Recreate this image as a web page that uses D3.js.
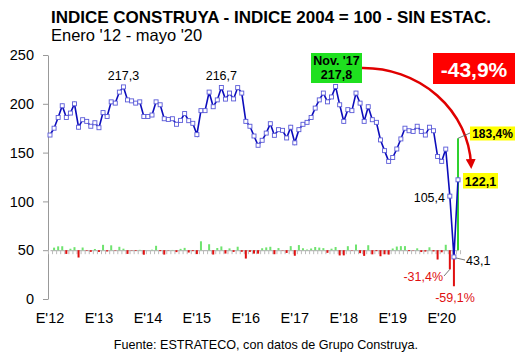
<!DOCTYPE html>
<html>
<head>
<meta charset="utf-8">
<script src="https://cdn.jsdelivr.net/npm/d3@7"></script>
<style>
  body { margin: 0; background: #fff; }
  text { font-family: Arial, "Liberation Sans", sans-serif; }
</style>
</head>
<body>
<svg id="chart" width="530" height="354"></svg>
<script>
// indice construya, ene 2012 - may 2020
const indexValues = [
  168, 175, 186, 198, 186, 190.5, 200, 176, 183.7, 182, 177, 180.6,
  175.5, 191, 187, 202, 200.7, 212, 217.3, 204, 203, 200.7, 202, 187,
  187, 188.5, 202, 199, 184.7, 184, 184.7, 179, 183, 190, 182.7, 180,
  168.4, 193, 193, 212, 197, 204, 216.7, 204.8, 211, 205, 216.6, 211,
  182, 177, 167, 157.5, 162.6, 170, 179.6, 167.7, 173.5, 172.8, 165, 176,
  160, 173.5, 179, 181, 186, 195.6, 204, 211, 202, 207, 217.8, 199,
  182, 194, 193, 211, 200.7, 182, 197, 183.7, 181, 163, 152, 141,
  145, 153.7, 164, 175, 172.4, 171.7, 177, 171.7, 168, 176, 172.4, 146,
  141, 153.6, 105.4, 43.1, 122.1
];

// monthly % change (bars, secondary scale around the 50 line)
const monthlyChange = [
  null, 4.2, 6.3, 6.5, -6.1, 2.4, 5.0, -12.0, 4.4, -0.9, -2.7, 2.0,
  -2.8, 8.8, -2.1, 8.0, -0.6, 5.6, 2.5, -6.1, -0.5, -1.1, 0.6, -7.4,
  0, 0.8, 7.2, -1.5, -7.2, -0.4, 0.4, -3.1, 2.2, 3.8, -3.8, -1.5,
  -6.4, 14.6, 0, 9.8, -7.1, 3.6, 6.2, -5.5, 3.0, -2.8, 5.7, -2.6,
  -13.7, -2.7, -5.6, -5.7, 3.2, 4.6, 5.6, -6.6, 3.5, -0.4, -4.5, 6.7,
  -9.1, 8.4, 3.2, 1.1, 2.8, 5.2, 4.3, 3.4, -4.3, 2.5, 5.2, -8.6,
  -8.5, 6.6, -0.5, 9.3, -4.9, -9.3, 8.2, -6.8, -1.5, -9.9, -6.7, -7.2,
  2.8, 6.0, 6.7, 6.7, -1.5, -0.4, 3.1, -3.0, -2.2, 4.8, -2.0, -15.3,
  -3.4, 8.9, -31.4, -59.1, 183.4
];

const yearLabels = ["E'12", "E'13", "E'14", "E'15", "E'16", "E'17", "E'18", "E'19", "E'20"];
const yTicks = [0, 50, 100, 150, 200, 250];

const svg = d3.select("#chart");

const x = d3.scaleLinear().domain([0, indexValues.length - 1]).range([50, 458]);
const y = d3.scaleLinear().domain([0, 250]).range([299, 55]);
// bars: 0% sits on the 50 line
const y2 = d3.scaleLinear().domain([-80, 320]).range([299, 55]);

// titles
svg.append("text")
  .attr("x", 51).attr("y", 23)
  .style("font-size", "17px").style("font-weight", "bold")
  .text("INDICE CONSTRUYA - INDICE 2004 = 100 - SIN ESTAC.");
svg.append("text")
  .attr("x", 51).attr("y", 41)
  .style("font-size", "16.5px")
  .text("Enero '12 - mayo '20");

// y axis
const yAxis = svg.append("g")
  .attr("transform", "translate(48,0)")
  .call(d3.axisLeft(y).tickValues(yTicks).tickSize(5).tickSizeOuter(0).tickPadding(9));
yAxis.selectAll("path, line").attr("stroke", "#999");
yAxis.selectAll("text").style("font-size", "14.5px").attr("fill", "#000");

// base line at 50 with monthly ticks
const baseAxis = svg.append("g")
  .attr("transform", `translate(0,${y(50)})`)
  .call(d3.axisBottom(x)
    .tickValues(d3.range(-0.5, indexValues.length, 1))
    .tickSize(4).tickSizeOuter(0).tickFormat(""));
baseAxis.select(".domain").attr("stroke", "#aaa");
baseAxis.selectAll("line").attr("stroke", "#bbb");

// year labels
svg.append("g").selectAll("text")
  .data(yearLabels)
  .join("text")
  .attr("x", (d, i) => x(i * 12))
  .attr("y", 323)
  .attr("text-anchor", "middle")
  .style("font-size", "14.5px")
  .text(d => d);

// bars
svg.append("g").selectAll("rect")
  .data(monthlyChange.map((v, i) => ({ v, i })).filter(d => d.v !== null))
  .join("rect")
  .attr("x", d => x(d.i) - 1)
  .attr("width", 2)
  .attr("y", d => Math.min(y2(0), y2(d.v)))
  .attr("height", d => Math.abs(y2(d.v) - y2(0)))
  .attr("fill", d => d.v >= 0 ? (d.v > 100 ? "#2fd12f" : "#6fe36f") : "#e01010");

// line
const line = d3.line().x((d, i) => x(i)).y(d => y(d));
svg.append("path")
  .datum(indexValues)
  .attr("d", line)
  .attr("fill", "none")
  .attr("stroke", "#0c0cbb")
  .attr("stroke-width", 1.6);

svg.append("g").selectAll("rect")
  .data(indexValues)
  .join("rect")
  .attr("x", (d, i) => x(i) - 2)
  .attr("y", d => y(d) - 2)
  .attr("width", 4).attr("height", 4)
  .attr("fill", "#fff")
  .attr("stroke", "#5a5ad8")
  .attr("stroke-width", 0.9);

// value labels
const n = indexValues.length - 1;
function label(txt, px, py, opts = {}) {
  return svg.append("text")
    .attr("x", px).attr("y", py)
    .attr("text-anchor", opts.anchor || "middle")
    .attr("fill", opts.fill || "#000")
    .style("font-size", (opts.size || 12.5) + "px")
    .style("font-weight", opts.bold ? "bold" : "normal")
    .text(txt);
}
label("217,3", x(18), 80);
label("216,7", x(42), 80);

// Nov '17 box
svg.append("rect").attr("x", 311).attr("y", 53).attr("width", 51).attr("height", 30).attr("fill", "#1fe01f");
label("Nov. '17", 336.5, 65, { bold: true, size: 12.5 });
label("217,8", 336.5, 79, { bold: true, size: 12.5 });

// -43,9% box
svg.append("rect").attr("x", 433).attr("y", 53).attr("width", 82).attr("height", 31).attr("fill", "#ff0000");
label("-43,9%", 474, 76.5, { bold: true, size: 21, fill: "#fff" });

// arrow
svg.append("defs").append("marker")
  .attr("id", "arrow").attr("viewBox", "0 0 10 10")
  .attr("refX", 5).attr("refY", 5)
  .attr("markerWidth", 4).attr("markerHeight", 4)
  .attr("orient", "auto")
  .append("path").attr("d", "M0,0 L10,5 L0,10 z").attr("fill", "#e00000");
svg.append("path")
  .attr("d", "M362,68 A108,101 0 0 1 471,164")
  .attr("fill", "none")
  .attr("stroke", "#e00000")
  .attr("stroke-width", 2.5)
  .attr("marker-end", "url(#arrow)");

// 183,4%
svg.append("line").attr("x1", x(n)).attr("y1", y2(183.4)).attr("x2", 470).attr("y2", 133)
  .attr("stroke", "#555").attr("stroke-width", 0.8);
svg.append("rect").attr("x", 470).attr("y", 126.5).attr("width", 45).attr("height", 14).attr("fill", "#ffff00");
label("183,4%", 492.5, 137.5, { bold: true, size: 12 });

// 122,1
svg.append("rect").attr("x", 463).attr("y", 173).attr("width", 35).attr("height", 15.5).attr("fill", "#ffff00");
label("122,1", 480.5, 186, { bold: true, size: 12.5 });

label("105,4", 445, 201.5, { anchor: "end", size: 12.5 });

svg.append("line").attr("x1", x(n - 1) + 2).attr("y1", y(43.1) + 1).attr("x2", 465).attr("y2", 260)
  .attr("stroke", "#555").attr("stroke-width", 0.8);
label("43,1", 466, 265, { anchor: "start", size: 12.5 });

svg.append("line").attr("x1", x(n - 2)).attr("y1", y2(-31.4)).attr("x2", 444).attr("y2", 276)
  .attr("stroke", "#555").attr("stroke-width", 0.8);
label("-31,4%", 443, 280.5, { anchor: "end", size: 12.5, fill: "#e01010" });
label("-59,1%", 455, 301.5, { size: 12.5, fill: "#e01010" });

// source
svg.append("text")
  .attr("x", 266).attr("y", 349)
  .attr("text-anchor", "middle")
  .style("font-size", "12.6px")
  .text("Fuente: ESTRATECO, con datos de Grupo Construya.");
</script>
</body>
</html>
